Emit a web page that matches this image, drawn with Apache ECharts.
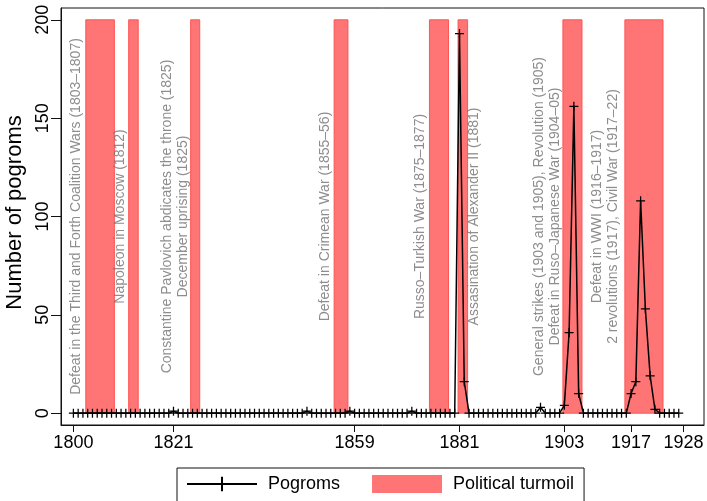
<!DOCTYPE html>
<html>
<head>
<meta charset="utf-8">
<script src="https://cdn.jsdelivr.net/npm/echarts@6/dist/echarts.min.js"></script>
<style>
  html, body { margin: 0; padding: 0; background: #fff; }
  #chart { width: 707px; height: 501px; }
</style>
</head>
<body>
<div id="chart"></div>
<script>
// pogroms per year, 1800-1927
var years = [
  1800, 1801, 1802, 1803, 1804, 1805, 1806, 1807, 1808, 1809,
  1810, 1811, 1812, 1813, 1814, 1815, 1816, 1817, 1818, 1819,
  1820, 1821, 1822, 1823, 1824, 1825, 1826, 1827, 1828, 1829,
  1830, 1831, 1832, 1833, 1834, 1835, 1836, 1837, 1838, 1839,
  1840, 1841, 1842, 1843, 1844, 1845, 1846, 1847, 1848, 1849,
  1850, 1851, 1852, 1853, 1854, 1855, 1856, 1857, 1858, 1859,
  1860, 1861, 1862, 1863, 1864, 1865, 1866, 1867, 1868, 1869,
  1870, 1871, 1872, 1873, 1874, 1875, 1876, 1877, 1878, 1879,
  1880, 1881, 1882, 1883, 1884, 1885, 1886, 1887, 1888, 1889,
  1890, 1891, 1892, 1893, 1894, 1895, 1896, 1897, 1898, 1899,
  1900, 1901, 1902, 1903, 1904, 1905, 1906, 1907, 1908, 1909,
  1910, 1911, 1912, 1913, 1914, 1915, 1916, 1917, 1918, 1919,
  1920, 1921, 1922, 1923, 1924, 1925, 1926, 1927
];
var pogroms = [
  0, 0, 0, 0, 0, 0, 0, 0, 0, 0,
  0, 0, 0, 0, 0, 0, 0, 0, 0, 0,
  0, 1, 0, 0, 0, 0, 0, 0, 0, 0,
  0, 0, 0, 0, 0, 0, 0, 0, 0, 0,
  0, 0, 0, 0, 0, 0, 0, 0, 0, 1,
  0, 0, 0, 0, 0, 0, 0, 0, 1, 0,
  0, 0, 0, 0, 0, 0, 0, 0, 0, 0,
  0, 1, 0, 0, 0, 0, 0, 0, 0, 0,
  0, 193, 16, 0, 0, 0, 0, 0, 0, 0,
  0, 0, 0, 0, 0, 0, 0, 0, 3, 0,
  0, 0, 0, 4, 41, 156, 10, 0, 0, 0,
  0, 0, 0, 0, 0, 0, 0, 10, 16, 108,
  53, 19, 2, 0, 0, 0, 0, 0
];

// political turmoil periods (shaded bands)
var turmoilStart = [1802.6, 1811.6, 1824.6, 1854.7, 1874.7, 1880.7, 1902.7, 1915.7];
var turmoilEnd   = [1808.6, 1813.6, 1826.5, 1857.6, 1878.7, 1882.7, 1906.7, 1923.7];
var turmoilTop = 200;

// annotations
var noteX = [1800.6, 1809.8, 1821.4, 1852.8, 1872.7, 1884.1, 1899.3, 1911.5];
var noteY = 100;
var noteText = [
  'Defeat in the Third and Forth Coalition Wars (1803\u20131807)',
  'Napoleon in Moscow (1812)',
  'Constantine Pavlovich abdicates the throne (1825)\nDecember uprising (1825)',
  'Defeat in Crimean War (1855\u201356)',
  'Russo\u2013Turkish War (1875\u20131877)',
  'Assasination of Alexander II (1881)',
  'General strikes (1903 and 1905), Revolution (1905)\nDefeat in Ruso\u2013Japanese War (1904\u201305)',
  'Defeat in WWI (1916\u20131917)\n2 revolutions (1917), Civil War (1917\u201322)'
];

var xTicks = [1800, 1821, 1859, 1881, 1903, 1917, 1928];
var yTicks = [0, 50, 100, 150, 200];

var font = '"Liberation Sans", Arial, Helvetica, sans-serif';
var plus = 'path://M4.3,0 H5.7 V4.3 H10 V5.7 H5.7 V10 H4.3 V5.7 H0 V4.3 H4.3 Z';

var lineData = years.map(function (y, i) { return [y, pogroms[i]]; });
var bandData = turmoilStart.map(function (s, i) { return [s, turmoilEnd[i], turmoilTop]; });
var noteData = noteX.map(function (x, i) { return { name: noteText[i], value: [x, noteY] }; });

var chart = echarts.init(document.getElementById('chart'));
chart.setOption({
  animation: false,
  textStyle: { fontFamily: font },
  grid: {
    left: 61, right: 3, top: 8, bottom: 76,
    outerBoundsMode: 'none',
    containLabel: false,
    show: true, borderColor: '#111', borderWidth: 1, backgroundColor: '#fff'
  },
  legend: {
    left: 177, top: 468,
    padding: [7, 10, 20, 9],
    borderColor: '#111', borderWidth: 1,
    itemWidth: 70, itemHeight: 18, itemGap: 32,
    textStyle: { fontSize: 18, color: '#000', padding: [0, 0, 0, 6] },
    data: [
      { name: 'Pogroms' },
      { name: 'Political turmoil', icon: 'rect' }
    ]
  },
  xAxis: {
    type: 'value',
    min: 1797.4, max: 1932.3,
    splitLine: { show: false },
    axisLine: { show: true, onZero: false, lineStyle: { color: '#111' } },
    axisTick: { show: true, length: 7, customValues: xTicks, lineStyle: { color: '#111' } },
    axisLabel: {
      customValues: xTicks, fontSize: 18, color: '#000', margin: 9,
      formatter: function (v) { return String(v); }
    }
  },
  yAxis: {
    type: 'value',
    min: -6, max: 206,
    name: 'Number of pogroms',
    nameLocation: 'middle',
    nameGap: 28,
    nameTextStyle: { fontSize: 22, color: '#000', padding: [0, 0, 0, 8] },
    splitLine: { show: false },
    axisLine: { show: true, lineStyle: { color: '#111' } },
    axisTick: { show: true, length: 10, customValues: yTicks, lineStyle: { color: '#111' } },
    axisLabel: { customValues: yTicks, fontSize: 18, color: '#000', rotate: 90, margin: 9 }
  },
  series: [
    {
      name: 'Political turmoil',
      type: 'custom',
      itemStyle: { color: '#ff7474' },
      encode: { x: [0, 1], y: 2 },
      data: bandData,
      z: 1,
      renderItem: function (params, api) {
        var p0 = api.coord([api.value(0), api.value(2)]);
        var p1 = api.coord([api.value(1), 0]);
        return {
          type: 'rect',
          shape: { x: p0[0], y: p0[1], width: p1[0] - p0[0], height: p1[1] - p0[1] },
          style: { fill: '#ff7474', stroke: '#ff5555', lineWidth: 1 }
        };
      }
    },
    {
      name: 'notes',
      type: 'scatter',
      symbolSize: 0,
      silent: true,
      z: 2,
      data: noteData,
      label: {
        show: true,
        position: 'inside',
        rotate: 90,
        formatter: '{b}',
        fontSize: 14,
        lineHeight: 16,
        color: '#707070',
        align: 'center',
        verticalAlign: 'middle'
      }
    },
    {
      name: 'Pogroms',
      type: 'line',
      data: lineData,
      z: 3,
      symbol: plus,
      symbolSize: 9,
      showAllSymbol: true,
      lineStyle: { color: '#000', width: 1.5 },
      itemStyle: { color: '#000' }
    }
  ]
});
</script>
</body>
</html>
